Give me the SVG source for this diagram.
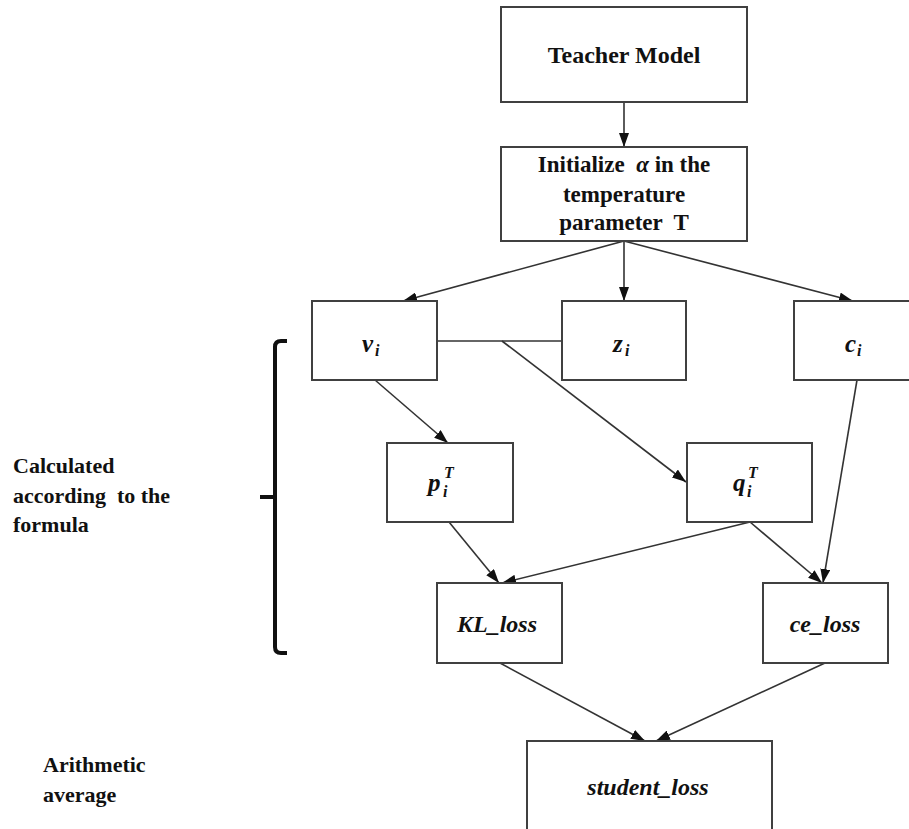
<svg xmlns="http://www.w3.org/2000/svg" width="909" height="829" viewBox="0 0 909 829">
<defs>
<style>
text{font-family:'Liberation Serif','Tinos','Times New Roman','DejaVu Serif','Noto Serif',serif;font-weight:bold;fill:#111}
.lbl{font-size:23px}
.side{font-size:22px}
.math{font-style:italic;font-size:25px}
.sub{font-style:italic;font-size:16px}
.ital{font-style:italic;font-size:24px}
.box{fill:#fff;stroke:#404040;stroke-width:2}
.conn{stroke:#333;stroke-width:1.6;fill:none}
</style>
<marker id="ah" viewBox="0 0 14 10" refX="14" refY="5" markerWidth="14" markerHeight="10" markerUnits="userSpaceOnUse" orient="auto">
<path d="M0,0 L14,5 L0,10 Z" fill="#111"/>
</marker>
</defs>
<rect width="909" height="829" fill="#fff"/>

<g id="connectors">
<path class="conn" d="M624,102 L624,147" marker-end="url(#ah)"/>
<path class="conn" d="M624,241 L403,301" marker-end="url(#ah)"/>
<path class="conn" d="M624,241 L624,301" marker-end="url(#ah)"/>
<path class="conn" d="M624,241 L853,301" marker-end="url(#ah)"/>
<path class="conn" d="M437,341 L562,341"/>
<path class="conn" d="M502,341 L686,482" marker-end="url(#ah)"/>
<path class="conn" d="M375,380 L448,443" marker-end="url(#ah)"/>
<path class="conn" d="M449,522 L499,583" marker-end="url(#ah)"/>
<path class="conn" d="M750,522 L502,583" marker-end="url(#ah)"/>
<path class="conn" d="M750,522 L822,583" marker-end="url(#ah)"/>
<path class="conn" d="M857,380 L823,583" marker-end="url(#ah)"/>
<path class="conn" d="M500,663 L645,741" marker-end="url(#ah)"/>
<path class="conn" d="M825,663 L656,741" marker-end="url(#ah)"/>
</g>

<g id="teacher">
<rect class="box" x="501" y="7" width="246" height="95"/>
<text class="lbl" x="624" y="63" text-anchor="middle" style="font-size:24px">Teacher Model</text>
</g>

<g id="init">
<rect class="box" x="501" y="147" width="246" height="94"/>
<text class="lbl" x="624" y="172" text-anchor="middle" xml:space="preserve">Initialize  <tspan font-style="italic">α</tspan> in the</text>
<text class="lbl" x="624" y="202" text-anchor="middle">temperature</text>
<text class="lbl" x="624" y="230" text-anchor="middle" xml:space="preserve">parameter  T</text>
</g>

<g id="v">
<rect class="box" x="312" y="301" width="125" height="79"/>
<text class="math" x="362" y="352">v</text>
<text class="sub" x="375" y="356">i</text>
</g>

<g id="z">
<rect class="box" x="562" y="301" width="124" height="79"/>
<text class="math" x="613" y="352">z</text>
<text class="sub" x="625" y="356">i</text>
</g>

<g id="c">
<rect class="box" x="794" y="301" width="125" height="79"/>
<text class="math" x="845" y="352">c</text>
<text class="sub" x="857" y="356">i</text>
</g>

<g id="p">
<rect class="box" x="387" y="443" width="126" height="79"/>
<text class="math" x="428" y="491">p</text>
<text class="sub" x="444" y="478">T</text>
<text class="sub" x="443" y="497">i</text>
</g>

<g id="q">
<rect class="box" x="687" y="443" width="125" height="79"/>
<text class="math" x="733" y="491">q</text>
<text class="sub" x="748" y="478">T</text>
<text class="sub" x="747" y="497">i</text>
</g>

<g id="kl">
<rect class="box" x="437" y="583" width="125" height="80"/>
<text class="ital" x="497" y="632" text-anchor="middle">KL_loss</text>
</g>

<g id="ce">
<rect class="box" x="763" y="583" width="125" height="80"/>
<text class="ital" x="825" y="632" text-anchor="middle">ce_loss</text>
</g>

<g id="student">
<rect class="box" x="527" y="741" width="245" height="100"/>
<text class="ital" x="648" y="795" text-anchor="middle">student_loss</text>
</g>

<g id="bracket">
<path d="M287,341 L281,341 Q275,341 275,347 L275,647 Q275,653 281,653 L287,653" fill="none" stroke="#111" stroke-width="4"/>
<path d="M260,497 L275,497" fill="none" stroke="#111" stroke-width="4"/>
</g>

<g id="formula-label">
<text class="side" x="13" y="473">Calculated</text>
<text class="side" x="13" y="503" xml:space="preserve">according  to the</text>
<text class="side" x="13" y="532">formula</text>
</g>

<g id="average-label">
<text class="side" x="43" y="772">Arithmetic</text>
<text class="side" x="43" y="802">average</text>
</g>
</svg>
